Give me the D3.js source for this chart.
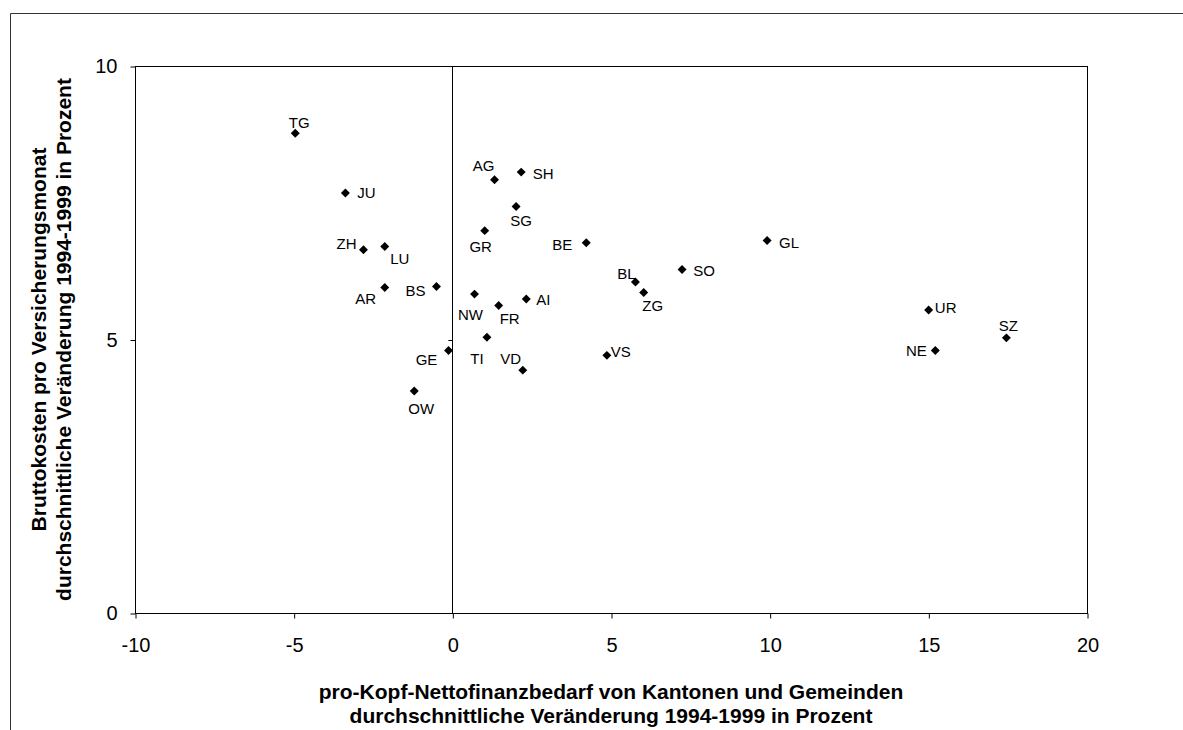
<!DOCTYPE html>
<html><head><meta charset="utf-8">
<script src="https://cdn.jsdelivr.net/npm/d3@7"></script>
<style>
html,body{margin:0;padding:0;background:#fff;}
svg{display:block;}
text{font-family:"Liberation Sans",Arial,sans-serif;fill:#000;}
</style></head>
<body>
<script>
const cantons = ["TG","JU","ZH","LU","AR","BS","AG","SH","SG","GR","BE","GL","SO","BL","ZG","NW","FR","AI","TI","GE","VD","VS","OW","UR","NE","SZ"];
const xValues = [-4.95,-3.37,-2.80,-2.13,-2.13,-0.50,1.33,2.17,2.01,1.02,4.22,9.92,7.24,5.77,6.03,0.70,1.46,2.33,1.09,-0.12,2.22,4.87,-1.20,15.01,15.22,17.46];
const yValues = [8.77,7.68,6.64,6.70,5.95,5.97,7.92,8.06,7.43,6.99,6.77,6.81,6.28,6.05,5.86,5.83,5.62,5.74,5.04,4.80,4.44,4.71,4.06,5.54,4.80,5.03];
// label placement relative to the marker (style only)
const labelDx = [4,21,-17,15,-19,-21,-11,22,5,-4,-24,22,22,-9,9,-4,11,17,-10,-22,-12,14,7,17,-19,2];
const labelDy = [-11,0,-6,12,11,4,-14,1,14,16,2,2,1,-9,13,20,13,0,21,9,-12,-4,18,-2,0,-12];
const xTicks = [-10,-5,0,5,10,15,20];
const yTicks = [0,5,10];
const xTitle = ["pro-Kopf-Nettofinanzbedarf von Kantonen und Gemeinden","durchschnittliche Veränderung 1994-1999 in Prozent"];
const yTitle = ["Bruttokosten pro Versicherungsmonat","durchschnittliche Veränderung 1994-1999 in Prozent"];

const W = 1183, H = 730;
const m = {left:135, right:1087, top:66, bottom:613};
const svg = d3.select("body").append("svg").attr("width",W).attr("height",H);

// outer frame
svg.append("path").attr("d",`M10.5,${H} V13.5 H${W}`).attr("fill","none").attr("stroke","#333").attr("stroke-width",1);

const x = d3.scaleLinear().domain([-10,20]).range([m.left,m.right]);
const y = d3.scaleLinear().domain([0,10]).range([m.bottom,m.top]);

// plot border
svg.append("rect").attr("x",m.left+0.5).attr("y",m.top+0.5).attr("width",m.right-m.left).attr("height",m.bottom-m.top)
  .attr("fill","none").attr("stroke","#000").attr("stroke-width",1);

// zero line
svg.append("line").attr("x1",Math.round(x(0))+0.5).attr("x2",Math.round(x(0))+0.5).attr("y1",m.top).attr("y2",m.bottom)
  .attr("stroke","#000").attr("stroke-width",1);

const fmt = d => String(d);
// axes
const xAxis = d3.axisBottom(x).tickValues(xTicks).tickSize(5).tickPadding(19).tickFormat(fmt);
const gx = svg.append("g").attr("transform",`translate(0.5,${m.bottom+0.5})`).call(xAxis);
gx.select(".domain").remove();
gx.selectAll("text").style("font-size","20px").style("font-family","Liberation Sans, Arial, sans-serif").attr("fill","#000");
gx.selectAll("line").attr("stroke","#000");

const yAxis = d3.axisLeft(y).tickValues(yTicks).tickSize(5).tickPadding(13).tickFormat(fmt);
const gy = svg.append("g").attr("transform",`translate(${m.left+0.5},0.5)`).call(yAxis);
gy.select(".domain").remove();
gy.selectAll("text").style("font-size","20px").style("font-family","Liberation Sans, Arial, sans-serif").attr("fill","#000");
gy.selectAll("line").attr("stroke","#000");

// small tick on zero line at y=5
svg.append("line").attr("x1",x(0)-4).attr("x2",x(0)).attr("y1",Math.round(y(5))+0.5).attr("y2",Math.round(y(5))+0.5).attr("stroke","#000");

// points
const data = cantons.map((c,i)=>({c, x:xValues[i], y:yValues[i], dx:labelDx[i], dy:labelDy[i]}));
const diamond = d3.symbol().type(d3.symbolSquare).size(40);
svg.append("g").selectAll("path").data(data).join("path")
  .attr("d",diamond)
  .attr("transform",d=>`translate(${x(d.x)},${y(d.y)}) rotate(45)`)
  .attr("fill","#000");

svg.append("g").selectAll("text").data(data).join("text")
  .attr("x",d=>x(d.x)+d.dx).attr("y",d=>y(d.y)+d.dy)
  .attr("text-anchor","middle").attr("dominant-baseline","central")
  .style("font-size","15px")
  .text(d=>d.c);

// x title
const cx = (m.left+m.right)/2;
svg.append("text").attr("x",cx).attr("y",691).attr("text-anchor","middle").attr("dominant-baseline","central")
  .style("font-size","21px").style("font-weight","bold").text(xTitle[0]);
svg.append("text").attr("x",cx).attr("y",715).attr("text-anchor","middle").attr("dominant-baseline","central")
  .style("font-size","21px").style("font-weight","bold").text(xTitle[1]);

// y title
const cy = (m.top+m.bottom)/2;
svg.append("text").attr("transform",`translate(38,${cy}) rotate(-90)`).attr("text-anchor","middle").attr("dominant-baseline","central")
  .style("font-size","21px").style("font-weight","bold").text(yTitle[0]);
svg.append("text").attr("transform",`translate(63,${cy}) rotate(-90)`).attr("text-anchor","middle").attr("dominant-baseline","central")
  .style("font-size","21px").style("font-weight","bold").text(yTitle[1]);
</script>
</body></html>
